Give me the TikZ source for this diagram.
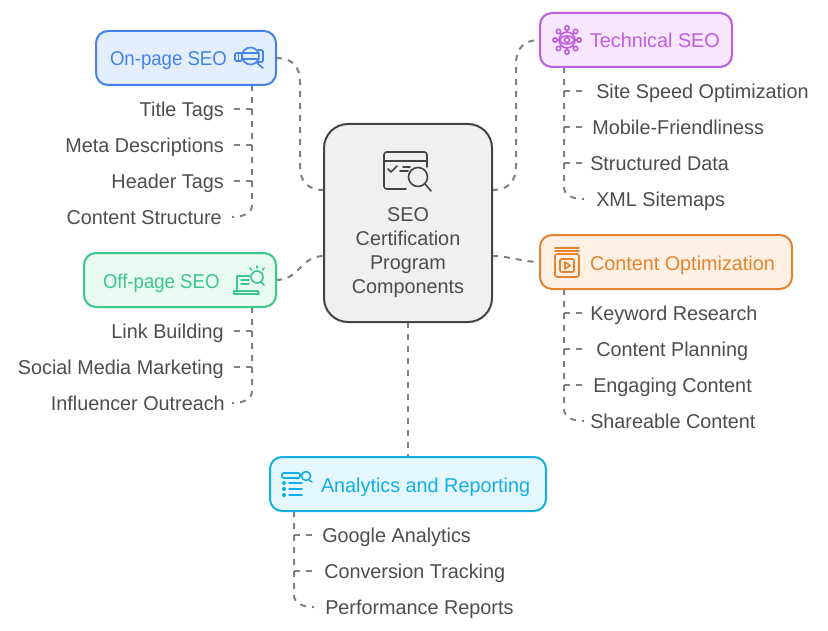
\documentclass[tikz,border=0pt]{standalone}
\usepackage{fontspec}
\setmainfont[FakeStretch=0.99]{Liberation Sans}
\newfontfamily\narrowf[FakeStretch=0.93]{Liberation Sans}
\usetikzlibrary{calc}
\definecolor{txt}{HTML}{4D4D4D}
\definecolor{dashc}{HTML}{808080}
\definecolor{ceF}{HTML}{F0F0F0}\definecolor{ceS}{HTML}{444444}
\definecolor{onF}{HTML}{E3EEFD}\definecolor{onS}{HTML}{4583E8}
\definecolor{teF}{HTML}{F8E6FC}\definecolor{teS}{HTML}{BD5FE0}
\definecolor{coF}{HTML}{FEF0E3}\definecolor{coS}{HTML}{E5832F}
\definecolor{ofF}{HTML}{E8FAF2}\definecolor{ofS}{HTML}{3CC88A}
\definecolor{anF}{HTML}{E4F7FD}\definecolor{anS}{HTML}{14AEE5}
\tikzset{
  x=0.75pt,y=-0.75pt,
  every node/.style={font=\fontsize{15}{18}\selectfont},
  catbox/.style n args={4}{draw=#2,fill=#1,text=#2,line width=1.5pt,rounded corners=9pt,
    minimum height=40.5pt,minimum width=#3,text width=#3,inner xsep=0pt,inner ysep=0pt,
    align=flush left,text height=13.5pt,text depth=1.5pt,
    execute at begin node={\hspace*{#4}}},
  centerbox/.style={draw=ceS,fill=ceF,line width=1.5pt,rounded corners=18pt,minimum width=126pt,minimum height=148.5pt,inner sep=0pt},
  leafL/.style={anchor=east,text=txt,inner xsep=7.5pt,inner ysep=0pt,text height=13pt,text depth=2pt},
  leafR/.style={anchor=west,text=txt,inner xsep=#1*0.75pt,inner ysep=0pt,text height=13pt,text depth=2pt},
  conn/.style={draw=dashc,line width=1.5pt,dash pattern=on 4.5pt off 4.5pt},
  ic/.style={line width=1.2pt,line cap=round,line join=round},
}
\begin{document}
\begin{tikzpicture}
\useasboundingbox (0,0) rectangle (828,631);
\coordinate (ceL1) at (324,190);
\coordinate (ceR1) at (492,190);
\coordinate (ceL2) at (324,256);
\coordinate (ceR2) at (492,256);
\coordinate (onT) at (252,85);
\coordinate (ofT) at (252,307);
\coordinate (teT) at (564,67);
\coordinate (coT) at (564,289);
\coordinate (anT) at (294,511);
% leaves
\node[leafL] (l1) at (234,109) {Title Tags};
\node[leafL] (l2) at (234,145) {Meta Descriptions};
\node[leafL] (l3) at (234,181) {Header Tags};
\node[leafL] (l4) at (232,217) {Content Structure};
\node[leafL] (f1) at (234,331) {Link Building};
\node[leafL] (f2) at (234,367) {Social Media Marketing};
\node[leafL,inner xsep=5.25pt] (f3) at (232,403) {Influencer Outreach};
\node[leafR=12] (t1) at (584,91) {Site Speed Optimization};
\node[leafR=8] (t2) at (584,127) {Mobile-Friendliness};
\node[leafR=6] (t3) at (584,163) {Structured Data};
\node[leafR=12] (t4) at (584,199) {XML Sitemaps};
\node[leafR=6] (c1) at (584,313) {Keyword Research};
\node[leafR=12] (c2) at (584,349) {Content Planning};
\node[leafR=9] (c3) at (584,385) {Engaging Content};
\node[leafR=6] (c4) at (584,421) {Shareable Content};
\node[leafR=8] (a1) at (314,535) {Google Analytics};
\node[leafR=10] (a2) at (314,571) {Conversion Tracking};
\node[leafR=11] (a3) at (314,607) {Performance Reports};
% connectors under boxes
\draw[conn] (276,58) .. controls (292,58) and (300,66) .. (300,82) -- (300,166) .. controls (300,182) and (308,190) .. (ceL1);
\draw[conn] (ceR1) .. controls (508,190) and (516,182) .. (516,166) -- (516,64) .. controls (516,48) and (524,40) .. (540,40);
\draw[conn] (ceR2) .. controls (510,256) and (522,262) .. (540,262);
\draw[conn] (276,280) .. controls (300,280) and (300,256) .. (ceL2);
\draw[conn] (408,322) -- (408,457);
\foreach \n in {l1,l2,l3}{\draw[conn] (\n.east) -- (\n.east -| onT);}
\draw[conn] (onT) -- (252,205) .. controls (252,213) and (244,217) .. (l4.east);
\foreach \n in {f1,f2}{\draw[conn] (\n.east) -- (\n.east -| ofT);}
\draw[conn] (ofT) -- (252,391) .. controls (252,399) and (244,403) .. (f3.east);
\foreach \n in {t1,t2,t3}{\draw[conn] (\n.west -| teT) -- (\n.west);}
\draw[conn] (teT) -- (564,187) .. controls (564,195) and (572,199) .. (t4.west);
\foreach \n in {c1,c2,c3}{\draw[conn] (\n.west -| coT) -- (\n.west);}
\draw[conn] (coT) -- (564,409) .. controls (564,417) and (572,421) .. (c4.west);
\foreach \n in {a1,a2}{\draw[conn] (\n.west -| anT) -- (\n.west);}
\draw[conn] (anT) -- (294,595) .. controls (294,603) and (302,607) .. (a3.west);
% boxes
\node[centerbox] (ce) at (408,223) {};
\node[catbox={onF}{onS}{135pt}{10.5pt}] (on) at (186,58) {\narrowf On-page SEO};
\node[catbox={teF}{teS}{144pt}{37.5pt}] (te) at (636,40) {Technical SEO};
\node[catbox={coF}{coS}{189pt}{37.5pt}] (co) at (666,262) {Content Optimization};
\node[catbox={ofF}{ofS}{144pt}{14.25pt}] (of) at (180,280) {\narrowf Off-page SEO};
\node[catbox={anF}{anS}{207pt}{38.25pt}] (an) at (408,484) {Analytics and Reporting};
\node[text=txt,align=flush center] (cl) at (408,253) {SEO\\Certification\\Program\\Components};
% icon: centre
\begin{scope}[ic,draw=ceS]
\draw[rounded corners=2pt] (427,167) -- (427,152) -- (384,152) -- (384,189) -- (406,189);
\draw (384,161) -- (427,161);
\draw (388,169) -- (391,172) -- (397,166);
\draw (403,167) -- (410,167) (400,171) -- (408,171);
\draw (418,177) circle (9.5);
\draw (425,184) -- (431,191);
\end{scope}
% icon: on-page
\begin{scope}[ic,draw=onS]
\draw[rounded corners=1pt] (242,53) -- (235,53) -- (235,61) -- (242,61) -- cycle;
\draw (238.5,53) -- (238.5,61);
\draw[rounded corners=1pt] (258,50) -- (263,50) -- (263,62) -- (258,62);
\draw (250.5,56) circle (8.5);
\draw (242,53) -- (259,53) (242,59) -- (259,59);
\draw (257,63) -- (263,68);
\end{scope}
% icon: technical
\begin{scope}[ic,draw=teS]
\foreach \a in {0,45,...,315}{
  \draw (567,40) ++(\a:7.5) -- ++(\a:2);
  \draw (567,40) ++(\a:12) circle (2.2);
}
\draw (567,40) circle (8);
\draw (567,40) ellipse (7 and 4);
\draw (567,40) circle (2.5);
\end{scope}
% icon: content
\begin{scope}[ic,draw=coS]
\draw (555,248) -- (579,248) (555,251) -- (579,251);
\draw[rounded corners=1.5pt] (555,254) rectangle (579,277);
\draw[rounded corners=1pt] (560,259) rectangle (574,272);
\draw (565,262) -- (565,269) -- (570,265.5) -- cycle;
\end{scope}
% icon: off-page
\begin{scope}[ic,draw=ofS]
\draw (237,291) -- (237,276) -- (250,276);
\draw (241,280) -- (249,280) (241,284) -- (249,284);
\draw (234,291) -- (258,291) -- (259,294) -- (234,294) -- cycle;
\draw (257,277) circle (6);
\draw (261,282) -- (264,285);
\draw (257,266) -- (257,268) (250,268) -- (251.5,270) (264,268) -- (262.5,270);
\end{scope}
% icon: analytics
\begin{scope}[ic,draw=anS]
\draw[rounded corners=1pt] (282,473) rectangle (300,478);
\foreach \y in {483,489,495}{
  \fill[anS] (284,\y) circle (2);
  \draw (289,\y) -- (302,\y);
}
\draw (306,476) circle (4.5);
\draw (309,480) -- (312,482);
\end{scope}
\end{tikzpicture}
\end{document}
